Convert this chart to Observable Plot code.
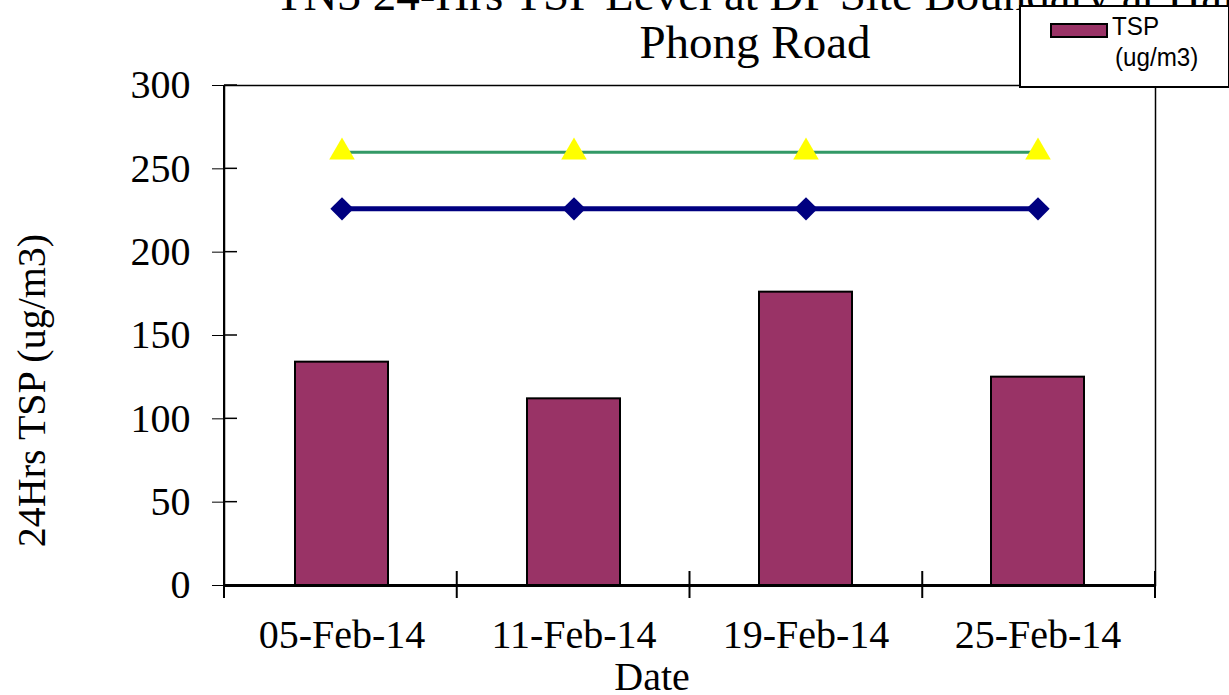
<!DOCTYPE html>
<html>
<head>
<meta charset="utf-8">
<script src="https://cdn.jsdelivr.net/npm/d3@7"></script>
<script src="https://cdn.jsdelivr.net/npm/@observablehq/plot@0.6"></script>
<style>
  html, body { margin: 0; padding: 0; background: #fff; }
  #wrap { position: relative; width: 1229px; height: 695px; overflow: hidden; background: #fff; }
  #legend { position: absolute; left: 1019px; top: 5px; width: 207px; height: 79px; border: 2px solid #000; background: #fff; font-family: "Liberation Sans", Arial, sans-serif; }
  #legend .sw { position: absolute; left: 29px; top: 16px; width: 54px; height: 11px; background: #993366; border: 2px solid #000; }
  #legend .t1 { position: absolute; left: 91px; top: 9px; font-size: 22px; line-height: 22px; transform: scale(1.1, 1.2); transform-origin: left; }
  #legend .t2 { position: absolute; left: 94px; top: 40px; font-size: 22px; line-height: 22px; transform: scale(1.1, 1.2); transform-origin: left; }
</style>
</head>
<body>
<div id="wrap"></div>
<script>
// ---- data ----
const dates = ["05-Feb-14", "11-Feb-14", "19-Feb-14", "25-Feb-14"];
const tsp = [134, 112, 176, 125];
const limitLevel = [260, 260, 260, 260];
const actionLevel = [226, 226, 226, 226];
const yTicks = [0, 50, 100, 150, 200, 250, 300];
const titleLine1 = "TN3 24-Hrs TSP Level at DP Site Boundary at Hai";
const titleLine2 = "Phong Road";
const yLabel = "24Hrs TSP (ug/m3)";
const xLabel = "Date";

const rows = dates.map((d, i) => ({date: d, tsp: tsp[i], limit: limitLevel[i], action: actionLevel[i]}));

function crossTicks(index, scales, values, dimensions) {
  const {width, height, marginLeft, marginRight, marginBottom} = dimensions;
  const g = d3.create("svg:g").attr("stroke", "black");
  const y = scales.y;
  for (const v of yTicks) {
    g.append("line").attr("x1", marginLeft).attr("x2", marginLeft + 13)
      .attr("y1", y(v)).attr("y2", y(v)).attr("stroke-width", 1.5);
  }
  const x0 = marginLeft, x1 = width - marginRight, yb = height - marginBottom;
  const n = dates.length;
  for (let i = 0; i <= n; i++) {
    const xi = x0 + i * (x1 - x0) / n;
    g.append("line").attr("x1", xi).attr("x2", xi)
      .attr("y1", yb - 14).attr("y2", yb + 13).attr("stroke-width", 2);
  }
  g.append("line").attr("x1", x0).attr("x2", x0).attr("y1", dimensions.marginTop).attr("y2", yb).attr("stroke-width", 2);
  return g.node();
}

const chart = Plot.plot({
  width: 1229,
  height: 695,
  marginLeft: 224,
  marginRight: 74,
  marginTop: 85,
  marginBottom: 110,
  style: {fontFamily: "'Liberation Serif', 'Times New Roman', serif", fontSize: "40px", background: "white", color: "black", overflow: "visible"},
  x: {domain: dates, paddingInner: 0.6, paddingOuter: 0.3, tickSize: 0, tickPadding: 34, label: null},
  y: {domain: [0, 300], ticks: yTicks, tickSize: 12, tickPadding: 22, label: null, tickFormat: d => String(d)},
  marks: [
    Plot.frame({stroke: "black", strokeWidth: 1.5}),
    Plot.barY(rows, {x: "date", y: "tsp", fill: "#993366", stroke: "black", strokeWidth: 2}),
    Plot.ruleY([0], {stroke: "black", strokeWidth: 3}),
    crossTicks,
    Plot.lineY(rows, {x: "date", y: "limit", stroke: "#339966", strokeWidth: 3}),
    Plot.lineY(rows, {x: "date", y: "action", stroke: "#000080", strokeWidth: 5}),
    Plot.dot(rows, {x: "date", y: "limit", symbol: "triangle", r: 9.5, fill: "#ffff00", stroke: "none"}),
    Plot.dot(rows, {x: "date", y: "action", symbol: "diamond2", r: 10.5, fill: "#000080", stroke: "none"}),
    Plot.text([titleLine1], {frameAnchor: "top", text: d => d, textAnchor: "middle", lineAnchor: "bottom", dx: 65, dy: -76, fontSize: 47, fill: "black"}),
    Plot.text([titleLine2], {frameAnchor: "top", text: d => d, textAnchor: "middle", lineAnchor: "bottom", dx: 65, dy: -28, fontSize: 47, fill: "black"}),
    Plot.text([yLabel], {frameAnchor: "left", text: d => d, textAnchor: "middle", lineAnchor: "middle", rotate: -90, dx: -192, dy: 55, fontSize: 40, fill: "black"}),
    Plot.text([xLabel], {frameAnchor: "bottom", text: d => d, textAnchor: "middle", lineAnchor: "bottom", dx: -38, dy: 104, fontSize: 40, fill: "black"})
  ]
});

const wrap = document.getElementById("wrap");
wrap.appendChild(chart);
const legend = document.createElement("div");
legend.id = "legend";
legend.innerHTML = '<div class="sw"></div><div class="t1">TSP</div><div class="t2">(ug/m3)</div>';
wrap.appendChild(legend);
</script>
</body>
</html>
